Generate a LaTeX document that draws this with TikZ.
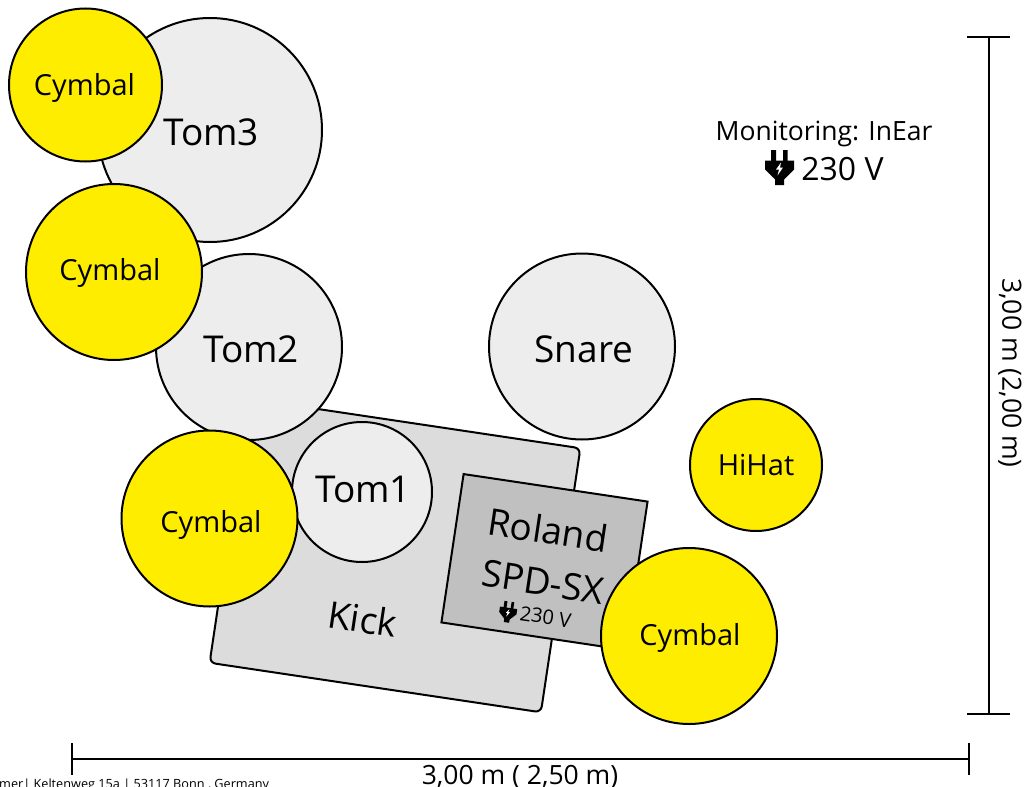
\documentclass[tikz,border=0pt]{standalone}
\usepackage{fontspec}
\setmainfont{Open Sans}
\definecolor{drumgray}{HTML}{EDEDED}
\definecolor{kickgray}{HTML}{DCDCDC}
\definecolor{padgray}{HTML}{C0C0C0}
\definecolor{cymyellow}{HTML}{FFED00}
\begin{document}
\begin{tikzpicture}
	[x=1pt,y=-1pt,
	drum/.style={circle,draw=black,fill=drumgray,line width=2pt,inner sep=0pt},
	cymbal/.style={circle,draw=black,fill=cymyellow,line width=2pt,inner sep=0pt},
	plate/.style={rectangle,draw=black,line width=2pt,inner sep=0pt,rotate=-8.5},
	plain/.style={draw=none,fill=none,inner sep=0pt},
	drumtext/.style={plain,font=\fontsize{37}{37}\selectfont},
	cymtext/.style={plain,font=\fontsize{29}{29}\selectfont},
	dimtext/.style={plain,font=\fontsize{26.5}{26.5}\selectfont},
	bar/.style={draw=black,line width=2pt},
	plug/.pic={
		\fill[black] (-8.5,-17.5) rectangle (-3.5,-6) (3.5,-17.5) rectangle (8,-6);
		\fill[black] (-14.5,-7) -- (14.5,-7) -- (14.5,2) -- (4.5,12) -- (4.5,17.5) -- (-4.5,17.5) -- (-4.5,12) -- (-14.5,2) -- cycle;
		\fill[white] (1.5,-5) -- (-3.5,2) -- (-0.5,2) -- (-2,8) -- (3.5,0) -- (0.5,0) -- cycle;
	}
	]
	\useasboundingbox (0,0) rectangle (1026,787);
	\clip (0,0) rectangle (1026,787);

	\node[drum,minimum size=224pt] (tomc) at (210,130){};
	\node[drumtext] (tomclabel) at (211,132){Tom3};
	\node[cymbal,minimum size=153pt] (cyma) at (85.5,85){};
	\node[cymtext] (cymalabel) at (84.5,88){Cymbal};

	\node[plate,fill=kickgray,rounded corners=6pt,minimum width=335pt,minimum height=267pt] (kick) at (395,555.5){};
	\node[drum,minimum size=186pt] (tomb) at (249,347){};
	\node[drumtext] (tomblabel) at (251,349){Tom2};
	\node[cymbal,minimum size=176pt] (cymb) at (114,272){};
	\node[cymtext] (cymblabel) at (110,273){Cymbal};
	\node[drum,minimum size=186pt] (snare) at (582,346.5){};
	\node[drumtext] (snarelabel) at (584,349){Snare};
	\node[drum,minimum size=140pt] (toma) at (362,492){};
	\node[drumtext] (tomalabel) at (363,489){Tom1};
	\node[cymbal,minimum size=176pt] (cymc) at (209.5,518.5){};
	\node[cymtext] (cymclabel) at (211,525){Cymbal};
	\node[drumtext,rotate=-8.5] (kicklabel) at (362.5,619){Kick};

	\node[plate,fill=padgray,minimum width=186pt,minimum height=150pt] (pad) at (544.5,562){};
	\node[drumtext,rotate=-8.5] (padlabela) at (548,530){Roland};
	\node[drumtext,rotate=-8.5] (padlabelb) at (543,582){SPD-SX};
	\pic[rotate=-8.5,scale=0.6] (padplug) at (508,612) {plug};
	\node[plain,rotate=-8.5,font=\fontsize{20}{20}\selectfont] (padlabelc) at (545.5,617){230 V};

	\node[cymbal,minimum size=132pt] (hihat) at (756,465){};
	\node[cymtext] (hihatlabel) at (756,465){HiHat};
	\node[cymbal,minimum size=176pt] (cymd) at (689,636){};
	\node[cymtext] (cymdlabel) at (690,638){Cymbal};

	\node[dimtext] (monitor) at (824,134){Monitoring: InEar};
	\pic (powerplug) at (779.5,167.5) {plug};
	\node[plain,font=\fontsize{32}{32}\selectfont] (power) at (842.5,169){230 V};

	\coordinate (vtop) at (989,37);
	\coordinate (vbot) at (989,714);
	\coordinate (vtopa) at (967,37);
	\coordinate (vtopb) at (1010,37);
	\coordinate (vbota) at (967,714);
	\coordinate (vbotb) at (1010,714);
	\draw[bar] (vtop) -- (vbot);
	\draw[bar] (vtopa) -- (vtopb);
	\draw[bar] (vbota) -- (vbotb);
	\node[dimtext,rotate=-90] (vlabel) at (1010,373){3,00 m (2,00 m)};

	\coordinate (hleft) at (72,759);
	\coordinate (hright) at (969,759);
	\coordinate (hlefta) at (72,743);
	\coordinate (hleftb) at (72,775);
	\coordinate (hrighta) at (969,743);
	\coordinate (hrightb) at (969,775);
	\draw[bar] (hleft) -- (hright);
	\draw[bar] (hlefta) -- (hleftb);
	\draw[bar] (hrighta) -- (hrightb);
	\node[dimtext] (hlabel) at (520,777){3,00 m ( 2,50 m)};

	\node[plain,anchor=base west,font=\fontsize{12.7}{12.7}\selectfont] (footer) at (-1,788){mer| Keltenweg 15a | 53117 Bonn , Germany};
\end{tikzpicture}
\end{document}
